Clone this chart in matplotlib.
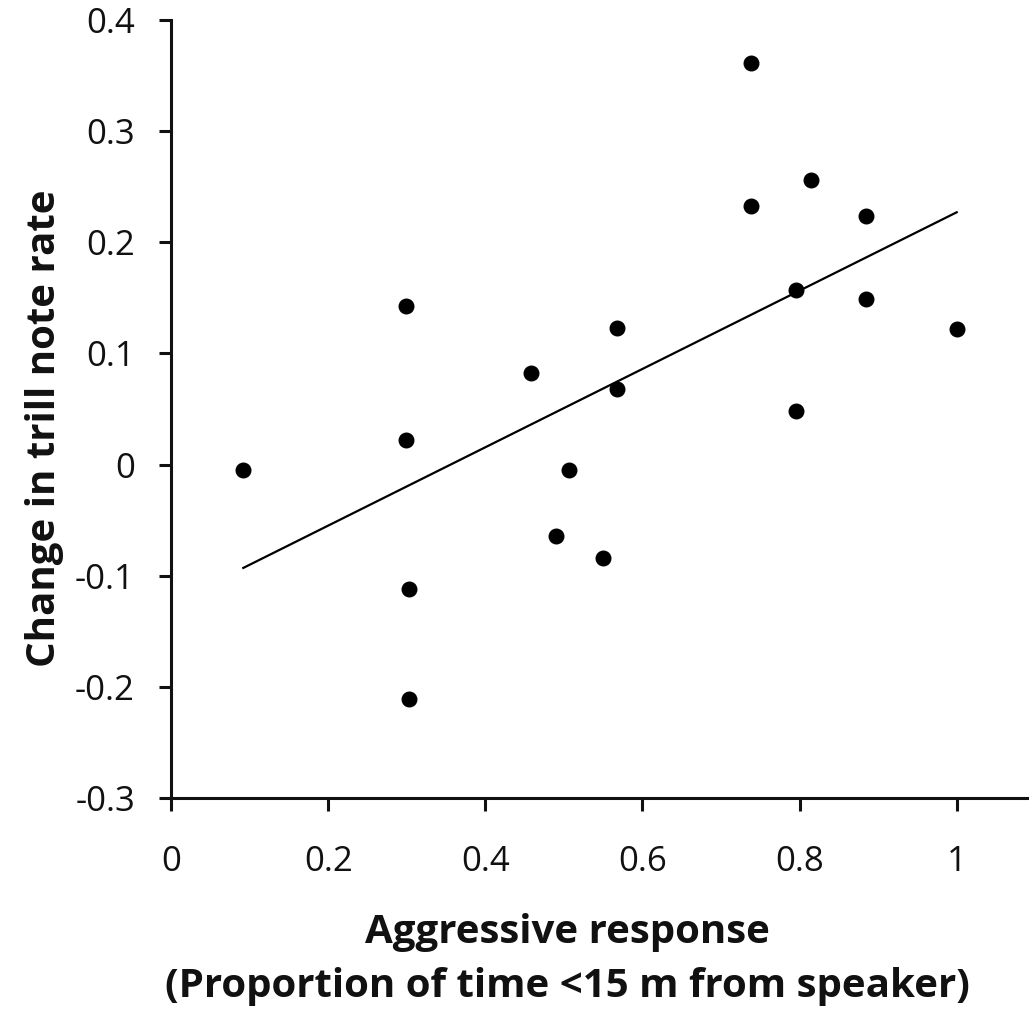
import matplotlib
matplotlib.use("Agg")
import matplotlib.pyplot as plt

plt.rcParams['font.family'] = ['Open Sans', 'DejaVu Sans']

# Data
aggressive = [0.092, 0.299, 0.299, 0.303, 0.303, 0.458, 0.490, 0.506, 0.550,
              0.567, 0.567, 0.738, 0.738, 0.795, 0.795, 0.815, 0.884, 0.884, 1.000]
trill_change = [-0.005, 0.143, 0.022, -0.112, -0.211, 0.082, -0.064, -0.005, -0.084,
                0.123, 0.068, 0.361, 0.233, 0.157, 0.048, 0.256, 0.224, 0.149, 0.122]
trend_x = [0.092, 1.0]
trend_y = [-0.093, 0.227]

x_ticks = [0, 0.2, 0.4, 0.6, 0.8, 1.0]
x_ticklabels = ['0', '0.2', '0.4', '0.6', '0.8', '1']
y_ticks = [-0.3, -0.2, -0.1, 0, 0.1, 0.2, 0.3, 0.4]
y_ticklabels = ['-0.3', '-0.2', '-0.1', '0', '0.1', '0.2', '0.3', '0.4']

fig = plt.figure(figsize=(10.29, 10.15), dpi=100)
ax = fig.add_axes([171/1029, 217/1015, 1 - 171/1029, 778/1015])

ax.scatter(aggressive, trill_change, s=110, color='black', zorder=3)
ax.plot(trend_x, trend_y, color='black', lw=1.6)

ax.set_xlim(0, 1.092)
ax.set_ylim(-0.3, 0.4)
ax.set_xticks(x_ticks)
ax.set_xticklabels(x_ticklabels)
ax.set_yticks(y_ticks)
ax.set_yticklabels(y_ticklabels)

for s in ['top', 'right']:
    ax.spines[s].set_visible(False)
for s in ['left', 'bottom']:
    ax.spines[s].set_linewidth(2.2)
    ax.spines[s].set_color('#111111')

ax.tick_params(axis='both', direction='out', length=9, width=2.2, labelsize=25, colors='#111111')
ax.tick_params(axis='y', pad=17)
ax.tick_params(axis='x', pad=25)

fig.text(567/1029, 1 - 932/1015, 'Aggressive response', ha='center', va='center',
         fontsize=29, fontweight='bold', color='#111111')
fig.text(567/1029, 1 - 986/1015, '(Proportion of time <15 m from speaker)', ha='center', va='center',
         fontsize=29, fontweight='bold', color='#111111')
fig.text(45/1029, 1 - 428/1015, 'Change in trill note rate', ha='center', va='center',
         rotation=90, fontsize=29, fontweight='bold', color='#111111')

fig.savefig('out.png', dpi=100)
